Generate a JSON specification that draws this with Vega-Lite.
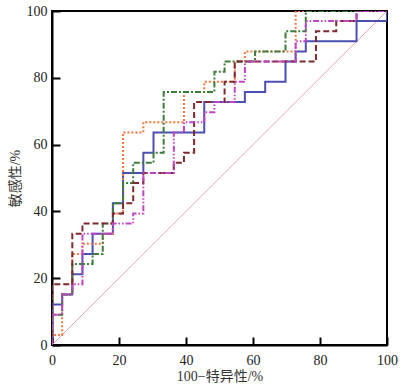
{
  "$schema": "https://vega.github.io/schema/vega-lite/v6.json",
  "width": 335,
  "height": 334,
  "autosize": {"type": "none"},
  "padding": {"left": 52, "top": 11, "right": 19, "bottom": 42},
  "background": "white",
  "config": {
    "view": {"stroke": "black", "strokeWidth": 2},
    "axis": {
      "grid": false,
      "domainColor": "black",
      "domainWidth": 2,
      "tickColor": "black",
      "tickWidth": 2,
      "tickSize": -8,
      "labelFlush": false,
      "labelOverlap": false,
      "labelFont": "Liberation Serif",
      "labelFontSize": 14,
      "labelColor": "#222",
      "titleFont": "Liberation Serif, Noto Sans CJK SC",
      "titleFontSize": 14,
      "titleFontWeight": "normal",
      "titleColor": "#333"
    }
  },
  "datasets": {
    "roc": [
      {"s": "A", "i": 0, "x": 0, "y": 0},
      {"s": "A", "i": 1, "x": 3.03, "y": 12.12},
      {"s": "A", "i": 2, "x": 6.06, "y": 15.15},
      {"s": "A", "i": 3, "x": 9.09, "y": 21.21},
      {"s": "A", "i": 4, "x": 12.12, "y": 27.27},
      {"s": "A", "i": 5, "x": 18.18, "y": 33.33},
      {"s": "A", "i": 6, "x": 21.21, "y": 42.42},
      {"s": "A", "i": 7, "x": 27.27, "y": 51.52},
      {"s": "A", "i": 8, "x": 30.3, "y": 57.58},
      {"s": "A", "i": 9, "x": 45.45, "y": 63.64},
      {"s": "A", "i": 10, "x": 57.58, "y": 72.73},
      {"s": "A", "i": 11, "x": 63.64, "y": 75.76},
      {"s": "A", "i": 12, "x": 69.7, "y": 78.79},
      {"s": "A", "i": 13, "x": 72.73, "y": 84.85},
      {"s": "A", "i": 14, "x": 75.76, "y": 87.88},
      {"s": "A", "i": 15, "x": 90.91, "y": 90.91},
      {"s": "A", "i": 16, "x": 100, "y": 96.97},
      {"s": "A", "i": 17, "x": 100, "y": 100},

      {"s": "B", "i": 0, "x": 0, "y": 0},
      {"s": "B", "i": 1, "x": 3.03, "y": 3.03},
      {"s": "B", "i": 2, "x": 6.06, "y": 15.15},
      {"s": "B", "i": 3, "x": 9.09, "y": 27.27},
      {"s": "B", "i": 4, "x": 15.15, "y": 30.3},
      {"s": "B", "i": 5, "x": 18.18, "y": 33.33},
      {"s": "B", "i": 6, "x": 21.21, "y": 39.39},
      {"s": "B", "i": 7, "x": 27.27, "y": 63.64},
      {"s": "B", "i": 8, "x": 39.39, "y": 66.67},
      {"s": "B", "i": 9, "x": 45.45, "y": 75.76},
      {"s": "B", "i": 10, "x": 54.55, "y": 78.79},
      {"s": "B", "i": 11, "x": 57.58, "y": 84.85},
      {"s": "B", "i": 12, "x": 72.73, "y": 87.88},
      {"s": "B", "i": 13, "x": 100, "y": 100},

      {"s": "C", "i": 0, "x": 0, "y": 0},
      {"s": "C", "i": 1, "x": 3.03, "y": 9.09},
      {"s": "C", "i": 2, "x": 6.06, "y": 15.15},
      {"s": "C", "i": 3, "x": 12.12, "y": 24.24},
      {"s": "C", "i": 4, "x": 15.15, "y": 27.27},
      {"s": "C", "i": 5, "x": 18.18, "y": 36.36},
      {"s": "C", "i": 6, "x": 21.21, "y": 42.42},
      {"s": "C", "i": 7, "x": 24.24, "y": 48.48},
      {"s": "C", "i": 8, "x": 30.3, "y": 54.55},
      {"s": "C", "i": 9, "x": 33.33, "y": 57.58},
      {"s": "C", "i": 10, "x": 48.48, "y": 75.76},
      {"s": "C", "i": 11, "x": 51.52, "y": 81.82},
      {"s": "C", "i": 12, "x": 60.61, "y": 84.85},
      {"s": "C", "i": 13, "x": 69.7, "y": 87.88},
      {"s": "C", "i": 14, "x": 75.76, "y": 93.94},
      {"s": "C", "i": 15, "x": 100, "y": 100},

      {"s": "D", "i": 0, "x": 0, "y": 0},
      {"s": "D", "i": 1, "x": 6.06, "y": 18.18},
      {"s": "D", "i": 2, "x": 9.09, "y": 33.33},
      {"s": "D", "i": 3, "x": 18.18, "y": 36.36},
      {"s": "D", "i": 4, "x": 21.21, "y": 39.39},
      {"s": "D", "i": 5, "x": 24.24, "y": 42.42},
      {"s": "D", "i": 6, "x": 27.27, "y": 48.48},
      {"s": "D", "i": 7, "x": 36.36, "y": 51.52},
      {"s": "D", "i": 8, "x": 39.39, "y": 54.55},
      {"s": "D", "i": 9, "x": 42.42, "y": 57.58},
      {"s": "D", "i": 10, "x": 51.52, "y": 72.73},
      {"s": "D", "i": 11, "x": 54.55, "y": 78.79},
      {"s": "D", "i": 12, "x": 78.79, "y": 84.85},
      {"s": "D", "i": 13, "x": 84.85, "y": 93.94},
      {"s": "D", "i": 14, "x": 90.91, "y": 96.97},
      {"s": "D", "i": 15, "x": 100, "y": 100},

      {"s": "E", "i": 0, "x": 0, "y": 0},
      {"s": "E", "i": 1, "x": 3.03, "y": 9.09},
      {"s": "E", "i": 2, "x": 6.06, "y": 15.15},
      {"s": "E", "i": 3, "x": 9.09, "y": 18.18},
      {"s": "E", "i": 4, "x": 18.18, "y": 33.33},
      {"s": "E", "i": 5, "x": 24.24, "y": 36.36},
      {"s": "E", "i": 6, "x": 27.27, "y": 39.39},
      {"s": "E", "i": 7, "x": 36.36, "y": 51.52},
      {"s": "E", "i": 8, "x": 39.39, "y": 63.64},
      {"s": "E", "i": 9, "x": 45.45, "y": 66.67},
      {"s": "E", "i": 10, "x": 48.48, "y": 69.7},
      {"s": "E", "i": 11, "x": 54.55, "y": 72.73},
      {"s": "E", "i": 12, "x": 57.58, "y": 78.79},
      {"s": "E", "i": 13, "x": 72.73, "y": 84.85},
      {"s": "E", "i": 14, "x": 75.76, "y": 90.91},
      {"s": "E", "i": 15, "x": 90.91, "y": 96.97},
      {"s": "E", "i": 16, "x": 100, "y": 100}
    ],
    "diag": [
      {"x": 0, "y": 0},
      {"x": 100, "y": 100}
    ]
  },
  "layer": [
    {
      "data": {"name": "diag"},
      "mark": {"type": "line", "color": "#e8a7b6", "strokeWidth": 1},
      "encoding": {
        "x": {"field": "x", "type": "quantitative", "scale": {"domain": [0, 100], "nice": false},
              "axis": {"values": [0, 20, 40, 60, 80, 100], "title": "100−特异性/%", "labelPadding": 16, "titlePadding": 2}},
        "y": {"field": "y", "type": "quantitative", "scale": {"domain": [0, 100], "nice": false},
              "axis": {"values": [0, 20, 40, 60, 80, 100], "title": "敏感性/%", "labelPadding": 13, "titlePadding": 4}}
      }
    },
    {
      "data": {"name": "roc"},
      "mark": {"type": "line", "interpolate": "step-before", "strokeWidth": 2, "clip": true},
      "encoding": {
        "x": {"field": "x", "type": "quantitative"},
        "y": {"field": "y", "type": "quantitative"},
        "order": {"field": "i"},
        "color": {"field": "s", "type": "nominal", "legend": null,
                  "scale": {"domain": ["A", "B", "C", "D", "E"], "range": ["#4b4fb3", "#f5763f", "#3c7d3c", "#7d2a2e", "#c044c4"]}},
        "strokeDash": {"field": "s", "type": "nominal", "legend": null,
                  "scale": {"domain": ["A", "B", "C", "D", "E"], "range": [[1, 0], [2, 2], [6, 2, 2, 2], [6, 3], [6, 2, 1.5, 2, 1.5, 2]]}}
      }
    }
  ]
}
